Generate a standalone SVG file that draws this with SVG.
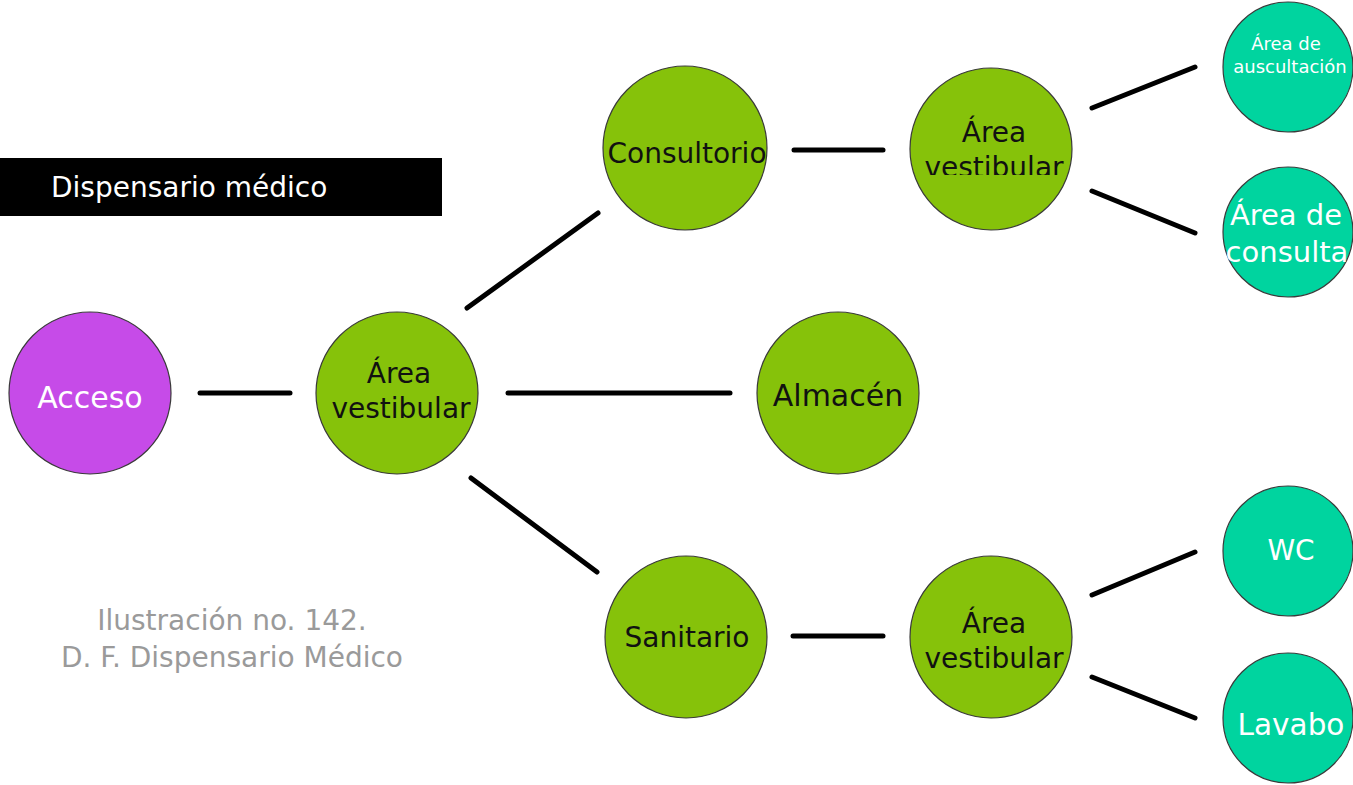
<svg xmlns="http://www.w3.org/2000/svg" width="1353" height="785" viewBox="0 0 1353 785">
<style>
.c{stroke:#3a3a3a;stroke-width:1.2}
.p{fill:#C64BE8}
.g{fill:#86C20A}
.t{fill:#00D49F}
.lbl{font-family:"DejaVu Sans","Liberation Sans",sans-serif;font-size:28px;text-anchor:middle}
.w{fill:#ffffff}
.k{fill:#111111}
.ln{stroke:#000;stroke-width:5;stroke-linecap:round;fill:none}
</style>
<defs>
<clipPath id="clipAV2"><rect x="900" y="60" width="180" height="115"/></clipPath>
</defs>
<rect x="0" y="158" width="442" height="58" fill="#000"/>
<text x="51" y="197" font-family="'DejaVu Sans','Liberation Sans',sans-serif" font-size="28" fill="#fff">Dispensario médico</text>
<g font-family="'DejaVu Sans','Liberation Sans',sans-serif" font-size="28" fill="#9a9a9a" text-anchor="middle">
<text x="232" y="630">Ilustración no. 142.</text>
<text x="232" y="667">D. F. Dispensario Médico</text>
</g>
<g id="connectors">
<line class="ln" x1="200" y1="393" x2="290" y2="393"/>
<line class="ln" x1="508" y1="393" x2="730" y2="393"/>
<line class="ln" x1="467" y1="308" x2="598" y2="213"/>
<line class="ln" x1="471" y1="478" x2="597" y2="572"/>
<line class="ln" x1="794" y1="150" x2="883" y2="150"/>
<line class="ln" x1="1092" y1="108" x2="1195" y2="67"/>
<line class="ln" x1="1092" y1="191" x2="1195" y2="233"/>
<line class="ln" x1="793" y1="636" x2="883" y2="636"/>
<line class="ln" x1="1092" y1="595" x2="1195" y2="552"/>
<line class="ln" x1="1092" y1="677" x2="1195" y2="718"/>
</g>
<g id="acceso"><circle class="c p" cx="90" cy="393" r="81"/><text class="lbl w" x="90" y="408" style="font-size:30px">Acceso</text></g>
<g id="av1"><circle class="c g" cx="397" cy="393" r="81"/><text class="lbl k" x="399" y="383">Área</text><text class="lbl k" x="401" y="418">vestibular</text></g>
<g id="consultorio"><circle class="c g" cx="685" cy="148" r="82"/><text class="lbl k" x="687" y="163">Consultorio</text></g>
<g id="av2"><circle class="c g" cx="991" cy="149" r="81"/><g clip-path="url(#clipAV2)"><text class="lbl k" x="994" y="142">Área</text><text class="lbl k" x="994" y="177">vestibular</text></g></g>
<g id="almacen"><circle class="c g" cx="838" cy="393" r="81"/><text class="lbl k" x="838" y="406" style="font-size:30px">Almacén</text></g>
<g id="sanitario"><circle class="c g" cx="686" cy="637" r="81"/><text class="lbl k" x="687" y="647">Sanitario</text></g>
<g id="av3"><circle class="c g" cx="991" cy="637" r="81"/><text class="lbl k" x="994" y="633">Área</text><text class="lbl k" x="994" y="668">vestibular</text></g>
<g id="auscultacion"><circle class="c t" cx="1288" cy="67" r="65"/><text class="lbl w" x="1286" y="50" style="font-size:18px">Área de</text><text class="lbl w" x="1290" y="73" style="font-size:18px">auscultación</text></g>
<g id="consulta"><circle class="c t" cx="1288" cy="232" r="65"/><text class="lbl w" x="1286" y="225" style="font-size:29px">Área de</text><text class="lbl w" x="1287" y="262" style="font-size:29px">consulta</text></g>
<g id="wc"><circle class="c t" cx="1288" cy="551" r="65"/><text class="lbl w" x="1291" y="560">WC</text></g>
<g id="lavabo"><circle class="c t" cx="1288" cy="718" r="65"/><text class="lbl w" x="1291" y="735" style="font-size:29.5px">Lavabo</text></g>
</svg>
